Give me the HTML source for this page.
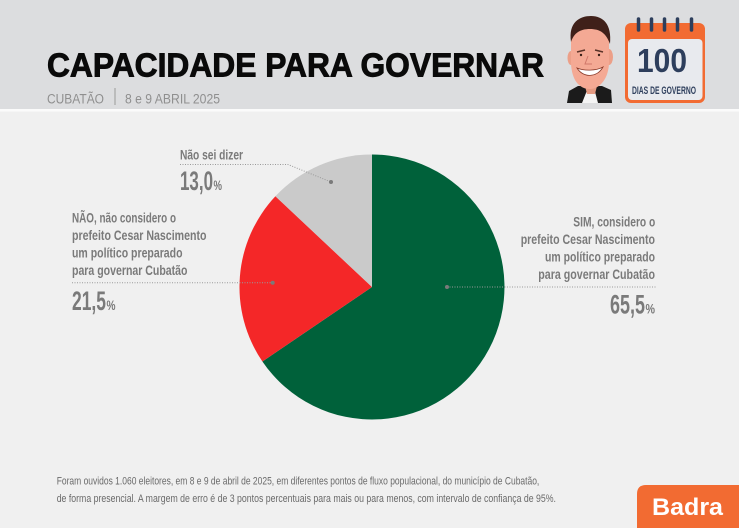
<!DOCTYPE html>
<html><head><meta charset="utf-8"><style>
html,body{margin:0;padding:0;background:#f0f0f0;}
svg{display:block;}
text{font-family:"Liberation Sans",sans-serif;}
</style></head><body>
<svg width="739" height="528" viewBox="0 0 739 528" xmlns="http://www.w3.org/2000/svg">
<rect x="0" y="0" width="739" height="528" fill="#f0f0f0"/>
<rect x="0" y="0" width="739" height="109" fill="#dcdddf"/>
<rect x="0" y="109" width="739" height="2.5" fill="#fbfbfb"/>

<!-- Title -->
<text x="47" y="76.7" font-size="33.5" font-weight="bold" fill="#0a0a0a" stroke="#0a0a0a" stroke-width="0.9" textLength="497" lengthAdjust="spacingAndGlyphs">CAPACIDADE PARA GOVERNAR</text>
<text x="47" y="103.3" font-size="13.5" fill="#8f8f8f" textLength="57" lengthAdjust="spacingAndGlyphs">CUBATÃO</text>
<line x1="115" y1="88" x2="115" y2="105" stroke="#9a9a9a" stroke-width="1"/>
<text x="125" y="103.3" font-size="13.5" fill="#8f8f8f" textLength="95" lengthAdjust="spacingAndGlyphs">8 e 9 ABRIL 2025</text>

<!-- Caricature -->
<g>
  <path d="M567,103 L569,91 L578,86 L602,86 L611,90 L612,103 Z" fill="#1b1b1b"/>
  <path d="M582,103 L588,88 L594,88 L598,103 Z" fill="#f4f4f4"/>
  <path d="M585,86 L597,86 L595,94 L587,94 Z" fill="#e49a82"/>
  <ellipse cx="571" cy="58" rx="3.5" ry="7" fill="#ec9f88"/>
  <ellipse cx="609" cy="57" rx="4" ry="8" fill="#ec9f88"/>
  <path d="M571,40 C570,28 578,22 590,22 C602,22 610,28 609,42 L609,62 C609,78 600,89 590,89 C579,89 572,80 571,64 Z" fill="#f4a994"/>
  <path d="M571,42 C568,22 580,16 591,16 C603,16 612,24 610,44 C606,33 600,29 590,29 C580,29 574,33 571,42 Z" fill="#3f2019"/>
  <path d="M577,52 L585,50" stroke="#5a3328" stroke-width="1.6"/>
  <path d="M595,50 L603,52" stroke="#5a3328" stroke-width="1.6"/>
  <circle cx="581" cy="55" r="1.2" fill="#3a2018"/>
  <circle cx="599" cy="55" r="1.2" fill="#3a2018"/>
  <path d="M577,68 C583,78 597,78 603,67 C596,71 584,71 577,68 Z" fill="#ffffff" stroke="#8a3a2a" stroke-width="0.8"/>
  <path d="M588,56 L585,64 L592,64" stroke="#d0786a" stroke-width="1" fill="none"/>
</g>

<!-- Calendar -->
<rect x="625" y="23" width="80" height="80" rx="6" fill="#f26b32"/>
<rect x="628" y="39" width="74.5" height="61" rx="4" fill="#e8eaee"/>
<g stroke="#2d3e5c" stroke-width="3.5" stroke-linecap="round">
  <line x1="638.5" y1="19" x2="638.5" y2="30"/>
  <line x1="651.5" y1="19" x2="651.5" y2="30"/>
  <line x1="664.5" y1="19" x2="664.5" y2="30"/>
  <line x1="677.5" y1="19" x2="677.5" y2="30"/>
  <line x1="691.5" y1="19" x2="691.5" y2="30"/>
</g>
<text x="637" y="72" font-size="33" font-weight="bold" fill="#2d3e5c" textLength="50" lengthAdjust="spacingAndGlyphs">100</text>
<text x="632" y="94" font-size="11" font-weight="bold" fill="#2d3e5c" textLength="64" lengthAdjust="spacingAndGlyphs">DIAS DE GOVERNO</text>

<!-- Pie -->
<path d="M372,287 L372,154.5 A132.5,132.5 0 1 1 262.4,361.5 Z" fill="#00613a"/>
<path d="M372,287 L262.4,361.5 A132.5,132.5 0 0 1 275.4,196.3 Z" fill="#f42728"/>
<path d="M372,287 L275.4,196.3 A132.5,132.5 0 0 1 372,154.5 Z" fill="#cacaca"/>

<!-- Leader lines -->
<g stroke="#9a9a9a" stroke-width="1" stroke-dasharray="1 1.5" fill="none">
  <polyline points="180,164.5 288,164.5 331,182"/>
  <line x1="72" y1="282.7" x2="272.7" y2="282.7"/>
  <line x1="447" y1="287" x2="656" y2="287"/>
</g>
<g fill="#7a7a7a">
  <circle cx="331" cy="182" r="2"/>
  <circle cx="272.7" cy="282.7" r="2"/>
  <circle cx="447" cy="287" r="2"/>
</g>

<!-- Labels -->
<g fill="#7a7a7a" font-weight="bold">
  <text x="180" y="159.3" font-size="13.5" textLength="63" lengthAdjust="spacingAndGlyphs">Não sei dizer</text>
  <text x="180" y="190" font-size="26.5" textLength="33" lengthAdjust="spacingAndGlyphs">13,0</text>
  <text x="213.5" y="190" font-size="14" textLength="8.5" lengthAdjust="spacingAndGlyphs">%</text>

  <text x="72" y="222.7" font-size="13.5" textLength="104" lengthAdjust="spacingAndGlyphs">NÃO, não considero o</text>
  <text x="72" y="240.2" font-size="13.5" textLength="134.5" lengthAdjust="spacingAndGlyphs">prefeito Cesar Nascimento</text>
  <text x="72" y="257.7" font-size="13.5" textLength="110.5" lengthAdjust="spacingAndGlyphs">um político preparado</text>
  <text x="72" y="275.2" font-size="13.5" textLength="115.5" lengthAdjust="spacingAndGlyphs">para governar Cubatão</text>
  <text x="72" y="310" font-size="26.5" textLength="34" lengthAdjust="spacingAndGlyphs">21,5</text>
  <text x="106.5" y="310" font-size="14" textLength="9" lengthAdjust="spacingAndGlyphs">%</text>

  <text x="573.3" y="226.7" font-size="13.5" textLength="82" lengthAdjust="spacingAndGlyphs">SIM, considero o</text>
  <text x="520.7" y="244.2" font-size="13.5" textLength="134.3" lengthAdjust="spacingAndGlyphs">prefeito Cesar Nascimento</text>
  <text x="545" y="261.7" font-size="13.5" textLength="110" lengthAdjust="spacingAndGlyphs">um político preparado</text>
  <text x="538.3" y="279.2" font-size="13.5" textLength="116.7" lengthAdjust="spacingAndGlyphs">para governar Cubatão</text>
  <text x="610" y="313.3" font-size="26.5" textLength="35" lengthAdjust="spacingAndGlyphs">65,5</text>
  <text x="645.5" y="313.3" font-size="14" textLength="9.5" lengthAdjust="spacingAndGlyphs">%</text>
</g>

<!-- Footnote -->
<g fill="#6a6a6a" font-size="11">
  <text x="56.7" y="484.7" textLength="482.6" lengthAdjust="spacingAndGlyphs">Foram ouvidos 1.060 eleitores, em 8 e 9 de abril de 2025, em diferentes pontos de fluxo populacional, do município de Cubatão,</text>
  <text x="56.7" y="502.2" textLength="499.3" lengthAdjust="spacingAndGlyphs">de forma presencial. A margem de erro é de 3 pontos percentuais para mais ou para menos, com intervalo de confiança de 95%.</text>
</g>

<!-- Badra -->
<path d="M637,528 L637,494 Q637,485 646,485 L739,485 L739,528 Z" fill="#f26b32"/>
<text x="652" y="515" font-size="24.5" font-weight="bold" fill="#ffffff" textLength="71" lengthAdjust="spacingAndGlyphs">Badra</text>
</svg>
</body></html>
